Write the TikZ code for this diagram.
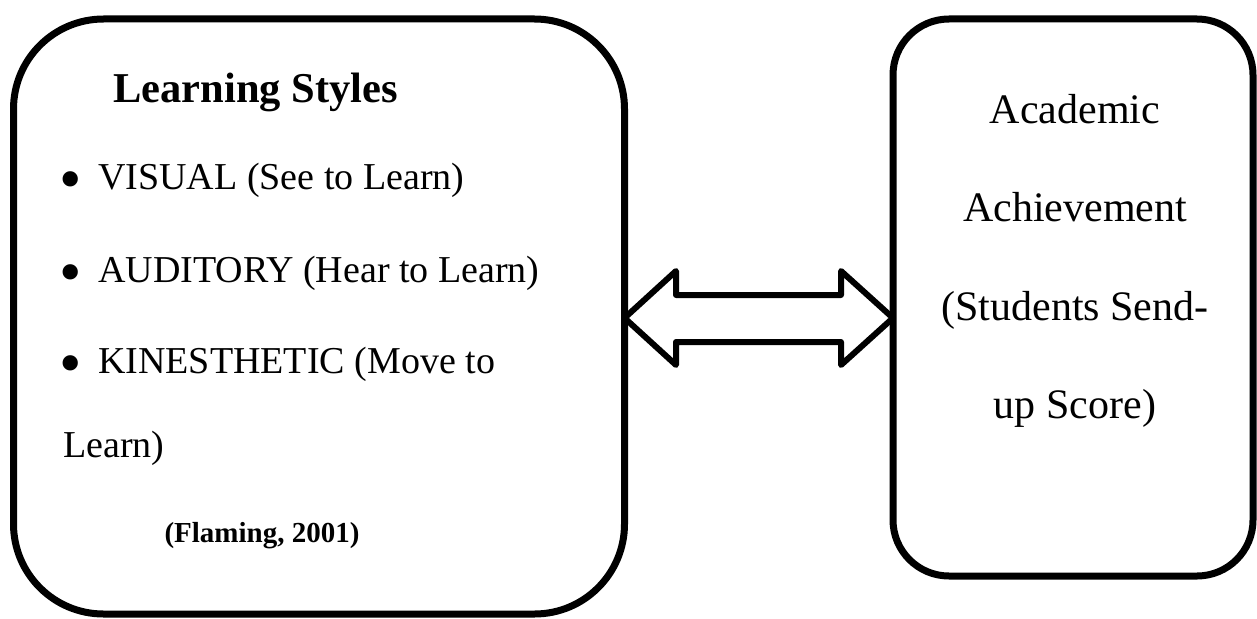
\documentclass[tikz,border=0pt]{standalone}
\usepackage{fontspec}
\setmainfont{Liberation Serif}
\begin{document}
\begin{tikzpicture}[x=1pt,y=-1pt,
  boxline/.style={draw=black,line width=7pt},
  arrowline/.style={draw=black,line width=6pt,line join=round,line cap=round},
  headtext/.style={font=\fontsize{42.5}{50}\selectfont\bfseries,inner sep=0pt,anchor=base},
  bodytext/.style={font=\fontsize{38}{46}\selectfont,inner sep=0pt,anchor=base west},
  bulletmark/.style={font=\fontsize{64}{70}\selectfont,inner sep=0pt,anchor=base},
  citetext/.style={font=\fontsize{29}{35}\selectfont\bfseries,inner sep=0pt,anchor=base},
  righttext/.style={font=\fontsize{42}{50}\selectfont,inner sep=0pt,anchor=base}]
\useasboundingbox (0,0) rectangle (1257,618);

% left box: learning styles
\draw[boxline,rounded corners=90pt] (13.5,19) rectangle (624.5,614);
\coordinate (leftedge) at (624.5,318);

% right box: academic achievement
\draw[boxline,rounded corners=56pt] (893,19) rectangle (1253,576);
\coordinate (rightedge) at (893,318);

% double-headed block arrow
\draw[arrowline] (leftedge) -- ++(51.5,-47) -- ++(0,24) -- (841,295)
  -- (841,271) -- (rightedge) -- (841,365) -- (841,342) -- (676,342)
  -- (676,365) -- cycle;

% left box text
\node[headtext] (title) at (255.5,102) {Learning Styles};
\node[bulletmark] (b1) at (71,200) {\textbullet};
\node[bodytext] (visual) at (98,189) {VISUAL (See to Learn)};
\node[bulletmark] (b2) at (71,293) {\textbullet};
\node[bodytext] (auditory) at (98,282) {AUDITORY (Hear to Learn)};
\node[bulletmark] (b3) at (71,384) {\textbullet};
\node[bodytext] (kines) at (98,373) {KINESTHETIC (Move to};
\node[bodytext] (kines2) at (63,457) {Learn)};
\node[citetext] (cite) at (262,542) {(Flaming, 2001)};

% right box text
\node[righttext] (r1) at (1075,123) {Academic};
\node[righttext] (r2) at (1075,221) {Achievement};
\node[righttext] (r3) at (1075,320) {(Students Send-};
\node[righttext] (r4) at (1075,418) {up Score)};
\end{tikzpicture}
\end{document}
